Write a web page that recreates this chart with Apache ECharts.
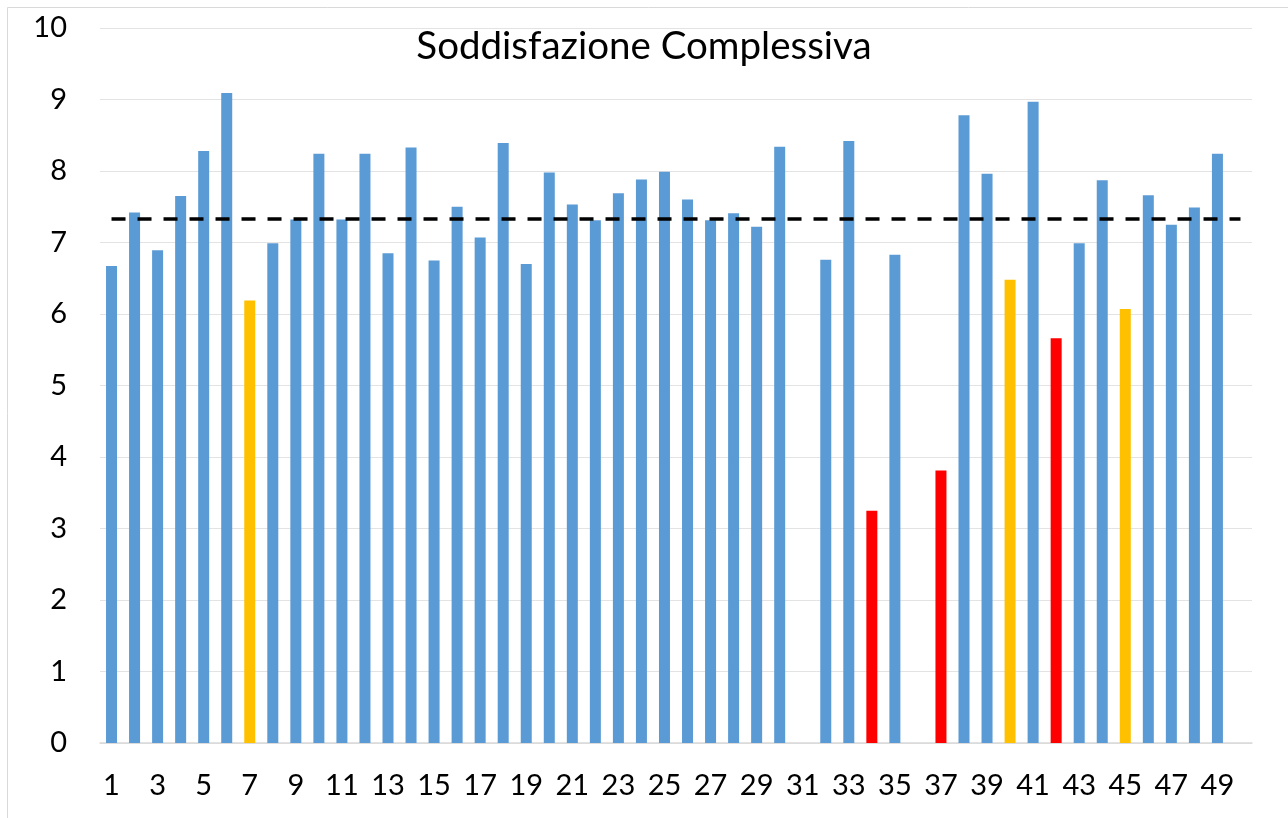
<!DOCTYPE html>
<html>
	<head>
		<title>Soddisfazione Complessiva</title>
		<meta charset="utf-8">
		<style>
			html, body { margin: 0; padding: 0; background: #fff; }
			#chart { width: 1288px; height: 818px; }
		</style>
	</head>
	<body>
		<div id="chart"></div>
	</body>
	<script type="text/javascript" src="https://cdn.jsdelivr.net/npm/echarts@6/dist/echarts.min.js"></script>
	<script type="text/javascript">
		// categorie 1..50 (etichette mostrate a passi di 2)
		var categorie = [];
		for (var i = 1; i <= 50; i++) categorie.push(String(i));

		// punteggi, null = nessuna barra
		var punteggi = [
			6.67, 7.42, 6.89, 7.65, 8.28, 9.09, 6.19, 6.99, 7.32, 8.24,
			7.32, 8.24, 6.85, 8.33, 6.75, 7.50, 7.07, 8.39, 6.70, 7.98,
			7.53, 7.31, 7.69, 7.88, 7.99, 7.60, 7.31, 7.41, 7.22, 8.34,
			null, 6.76, 8.42, 3.25, 6.83, null, 3.81, 8.78, 7.96, 6.48,
			8.97, 5.66, 6.99, 7.87, 6.07, 7.66, 7.25, 7.49, 8.24, null
		];
		var media = 7.33;
		var yTicks = [0, 1, 2, 3, 4, 5, 6, 7, 8, 9, 10];

		var font = 'Lato, "Open Sans", sans-serif';

		var myChart = echarts.init(document.getElementById('chart'));
		myChart.setOption({
			animation: false,
			title: {
				text: 'Soddisfazione Complessiva',
				left: 'center', top: 22,
				textStyle: {fontFamily: font, fontSize: 38.5, fontWeight: 'normal', color: '#000'}
			},
			graphic: [{
				type: 'rect', silent: true,
				shape: {x: 7.5, y: 7.5, width: 1290, height: 820},
				style: {fill: 'none', stroke: '#d9d9d9', lineWidth: 1}
			}],
			grid: {left: 100, right: 36, top: 28, bottom: 75},
			xAxis: {
				type: 'category',
				data: categorie,
				axisLine: {lineStyle: {color: '#d9d9d9', width: 1.5}},
				axisTick: {show: false},
				axisLabel: {interval: 1, margin: 28, fontFamily: font, fontSize: 29, color: '#000'}
			},
			yAxis: {
				type: 'value',
				min: yTicks[0], max: yTicks[yTicks.length - 1], interval: 1,
				axisLine: {show: false},
				axisTick: {show: false},
				splitLine: {lineStyle: {color: '#e3e3e3', width: 1}},
				axisLabel: {margin: 33, fontFamily: font, fontSize: 29, color: '#000'}
			},
			series: [{
				type: 'bar',
				data: punteggi,
				barWidth: 11,
				itemStyle: {
					color: function(p){
						if (p.value < 6) return '#ff0000';
						if (p.value < 6.6) return '#ffc000';
						return '#5b9bd5';
					}
				},
				markLine: {
					silent: true, symbol: 'none',
					label: {show: false},
					lineStyle: {color: '#000', type: [14, 12], width: 3.5},
					data: [[{coord: [categorie[0], media]}, {coord: [categorie[categorie.length - 1], media]}]]
				}
			}]
		});
	</script>
</html>
